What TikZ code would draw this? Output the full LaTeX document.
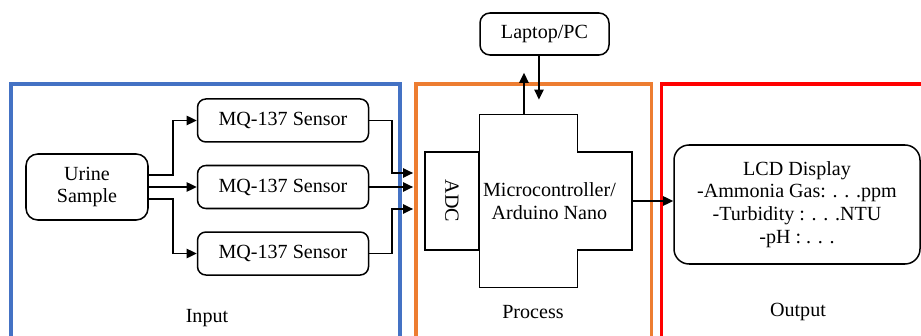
\documentclass[tikz,border=0pt]{standalone}
\usepackage{fontspec}
\setmainfont{LiberationSerif}[Extension=.ttf, UprightFont=*-Regular, BoldFont=*-Bold]
\usepackage{xcolor}
\usetikzlibrary{arrows.meta, positioning}

\definecolor{inblue}{HTML}{4472C4}
\definecolor{procorange}{HTML}{ED7D31}
\definecolor{outred}{HTML}{FF0000}

\begin{document}
\begin{tikzpicture}[
  font = \fontsize{12}{13.6}\selectfont,
  box/.style     = {rectangle, draw, line width=0.9pt, rounded corners=5pt,
                    minimum width=3.591cm, minimum height=0.903cm,
                    align=center, inner sep=1pt},
  block/.style   = {rectangle, inner sep=0pt},
  frame/.style   = {line width=1.8pt},
  arr/.style     = {-{Triangle[length=6pt, width=5.5pt]}, line width=1.1pt},
]
\useasboundingbox (0,0) rectangle (19.341,-7.056);

% the three stages
\draw[frame, inblue]     (0.231,-7.3) |- (8.4,-1.764) -- (8.4,-7.3);
\draw[frame, procorange] (8.736,-7.3) |- (13.671,-1.764) -- (13.671,-7.3);
\draw[frame, outred]     (13.881,-7.3) |- (19.6,-1.764);
\node (inlbl)   at (4.347,-6.678)  {Input};
\node (proclbl) at (11.193,-6.552) {Process};
\node (outlbl)  at (16.758,-6.552) {Output};

% input side
\node[box, rounded corners=7pt, minimum width=2.562cm, minimum height=1.386cm]
      (urine) at (1.827,-3.927) {Urine\\Sample};
\node[box, right=1.008cm of urine] (sens2) {MQ-137 Sensor};
\node[box, above=0.462cm of sens2] (sens1) {MQ-137 Sensor};
\node[box, below=0.462cm of sens2] (sens3) {MQ-137 Sensor};

% process side
\node[block, minimum width=2.037cm, minimum height=3.612cm]
      (core) at (11.0985,-4.221) {};
\node[block, right=0pt of core, minimum width=1.134cm, minimum height=2.037cm] (arm) {};
\node[block, draw, line width=0.9pt, left=0pt of core,
      minimum width=1.134cm, minimum height=2.058cm] (adc) {};
\node[rotate=-90] (adclbl) at (adc.center) {ADC};
\draw[line width=0.9pt] (core.north west) -- (core.north east) -- (core.east |- arm.north)
  -- (arm.north east) -- (arm.south east) -- (core.east |- arm.south)
  -- (core.south east) -- (core.south west) -- cycle;
\node[align=center] (mcu) at ([xshift=0.44cm]core.center) {Microcontroller/\\Arduino Nano};
\node[box, rounded corners=6pt, minimum width=2.709cm, minimum height=0.882cm]
      (laptop) at (11.4345,-0.714) {Laptop/PC};

% output side
\node[box, rounded corners=9pt, minimum width=5.166cm, minimum height=2.499cm]
      (lcd) at (16.737,-4.2945)
      {LCD Display\\-Ammonia Gas: . . .ppm\\-Turbidity : . . .NTU\\-pH : . . .};

% arrow ends at the process frame
\coordinate (in1) at ([shift={(-0.231,0.588)}]adc.west);
\coordinate (in3) at ([shift={(-0.231,-0.168)}]adc.west);

\draw[arr] ([yshift=0.25cm]urine.east) -- ++(0.504,0) |- (sens1.west);
\draw[arr] (urine.east) -- (urine.east -| sens2.west);
\draw[arr] ([yshift=-0.25cm]urine.east) -- ++(0.504,0) |- (sens3.west);
\draw[arr] (sens1.east) -- ++(0.483,0) |- (in1);
\draw[arr] (sens2.east) -- (sens2.east -| in1);
\draw[arr] (sens3.east) -- ++(0.483,0) |- (in3);
\draw[arr, shorten >=0.357cm] ([xshift=-0.095cm]core.north) -- ([xshift=-0.095cm]core.north |- laptop.south);
\draw[arr, shorten >=0.315cm] ([xshift=0.22cm]core.north |- laptop.south) -- ([xshift=0.22cm]core.north);
\draw[arr] (arm.east) -- (arm.east -| lcd.west);
\end{tikzpicture}
\end{document}
